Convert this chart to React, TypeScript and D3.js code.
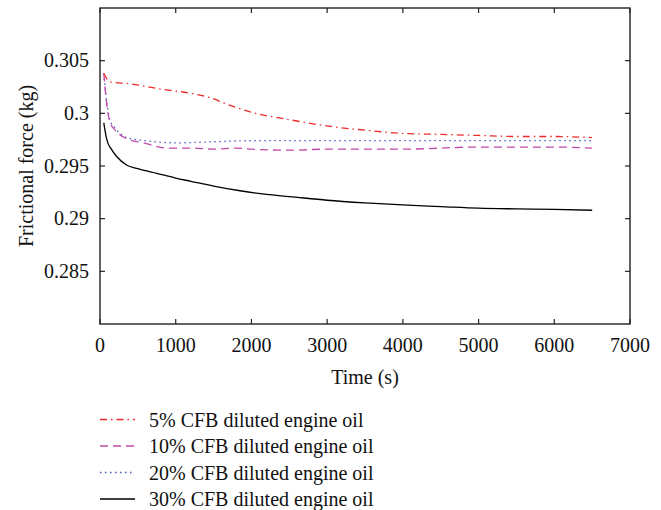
import React, { useEffect, useRef } from 'react';
import * as d3 from 'd3';

// values
const time5 = [50, 130, 400, 800, 1200, 1450, 1700, 2000, 2500, 3000, 3500, 4000, 4500, 5000, 5500, 6000, 6500];
const force5 = [0.3038, 0.303, 0.3028, 0.3023, 0.3019, 0.3015, 0.3008, 0.3001, 0.2994, 0.2988, 0.2984, 0.2981, 0.298, 0.2979, 0.2978, 0.2978, 0.2977];

const time10 = [50, 90, 130, 200, 350, 570, 900, 1200, 1500, 1800, 2000, 2500, 3000, 4000, 5000, 6000, 6500];
const force10 = [0.3038, 0.3008, 0.2992, 0.2984, 0.2976, 0.2972, 0.2967, 0.2967, 0.2966, 0.2967, 0.2966, 0.2965, 0.2966, 0.2966, 0.2968, 0.2968, 0.2967];

const time20 = [50, 90, 130, 200, 350, 600, 1000, 1500, 2000, 3000, 4000, 5000, 6000, 6500];
const force20 = [0.3038, 0.301, 0.2994, 0.2986, 0.2977, 0.2974, 0.2972, 0.2973, 0.2974, 0.2974, 0.2974, 0.2974, 0.2974, 0.2974];

const time30 = [50, 90, 150, 220, 350, 500, 750, 1000, 1200, 1500, 1850, 2200, 2500, 3000, 3500, 4000, 4500, 5000, 5500, 6000, 6500];
const force30 = [0.2991, 0.2975, 0.2966, 0.2959, 0.2951, 0.29475, 0.2943, 0.29385, 0.29355, 0.2931, 0.29265, 0.2923, 0.2921, 0.29175, 0.2915, 0.2913, 0.29115, 0.291, 0.29093, 0.29088, 0.2908];

const seriesNames = [
  '5% CFB diluted engine oil',
  '10% CFB diluted engine oil',
  '20% CFB diluted engine oil',
  '30% CFB diluted engine oil'
];

const xTicks = [0, 1000, 2000, 3000, 4000, 5000, 6000, 7000];
const yTicks = [0.285, 0.29, 0.295, 0.3, 0.305];

export default function App() {
  const ref = useRef<SVGSVGElement>(null);

  useEffect(() => {
    const svg = d3.select(ref.current);
    svg.selectAll('*').remove();

    const font = "'Liberation Serif', serif";
    const fs = 20;
    const left = 100, right = 630, top = 8, bottom = 324;

    const x = d3.scaleLinear().domain([0, 7000]).range([left, right]);
    const y = d3.scaleLinear().domain([0.28, 0.31]).range([bottom, top]);

    const styles = [
      { color: '#ee2a2a', dash: '7,4,1.5,4' },
      { color: '#c04aa8', dash: '8,5' },
      { color: '#4a5cc4', dash: '1.5,3.5' },
      { color: '#000000', dash: null }
    ];
    const series = [
      d3.zip(time5, force5),
      d3.zip(time10, force10),
      d3.zip(time20, force20),
      d3.zip(time30, force30)
    ];

    const line = d3.line<number[]>()
      .x(d => x(d[0]))
      .y(d => y(d[1]))
      .curve(d3.curveMonotoneX);

    // draw order: black first so the coloured ones stay on top
    [3, 2, 1, 0].forEach(i => {
      svg.append('path')
        .attr('d', line(series[i]))
        .attr('fill', 'none')
        .attr('stroke', styles[i].color)
        .attr('stroke-width', 1.3)
        .attr('stroke-dasharray', styles[i].dash);
    });

    // frame
    svg.append('rect')
      .attr('x', left).attr('y', top)
      .attr('width', right - left).attr('height', bottom - top)
      .attr('fill', 'none').attr('stroke', '#222').attr('stroke-width', 1.4);

    const label = (sel: any) => sel
      .style('font-family', font).style('font-size', fs + 'px').attr('fill', '#111');

    // ticks, pointing inward on all sides
    const tk = 5;
    xTicks.forEach(t => {
      svg.append('line').attr('x1', x(t)).attr('x2', x(t)).attr('y1', bottom).attr('y2', bottom - tk)
        .attr('stroke', '#222').attr('stroke-width', 1.2);
      svg.append('line').attr('x1', x(t)).attr('x2', x(t)).attr('y1', top).attr('y2', top + tk)
        .attr('stroke', '#222').attr('stroke-width', 1.2);
      svg.append('text').attr('x', x(t)).attr('y', 352)
        .attr('text-anchor', 'middle').call(label).text(t);
    });
    yTicks.forEach(t => {
      svg.append('line').attr('x1', left).attr('x2', left + tk).attr('y1', y(t)).attr('y2', y(t))
        .attr('stroke', '#222').attr('stroke-width', 1.2);
      svg.append('line').attr('x1', right).attr('x2', right - tk).attr('y1', y(t)).attr('y2', y(t))
        .attr('stroke', '#222').attr('stroke-width', 1.2);
      svg.append('text').attr('x', 89).attr('y', y(t) + 6.5)
        .attr('text-anchor', 'end').call(label).text(String(t));
    });

    svg.append('text').attr('x', (left + right) / 2).attr('y', 384)
      .attr('text-anchor', 'middle').call(label).text('Time (s)');

    svg.append('text').attr('transform', 'translate(33,' + ((top + bottom) / 2) + ') rotate(-90)')
      .attr('text-anchor', 'middle').call(label).text('Frictional force (kg)');

    // legend
    seriesNames.forEach((name, i) => {
      const base = 426.5 + i * 26.5;
      svg.append('line').attr('x1', 100).attr('x2', 135).attr('y1', base - 7).attr('y2', base - 7)
        .attr('stroke', styles[i].color).attr('stroke-width', 1.3)
        .attr('stroke-dasharray', styles[i].dash);
      svg.append('text').attr('x', 149).attr('y', base).call(label).text(name);
    });
  }, []);

  return (
    <svg ref={ref} width={661} height={510}
      style={{ position: 'absolute', left: 0, top: 0, background: '#fff' }} />
  );
}
